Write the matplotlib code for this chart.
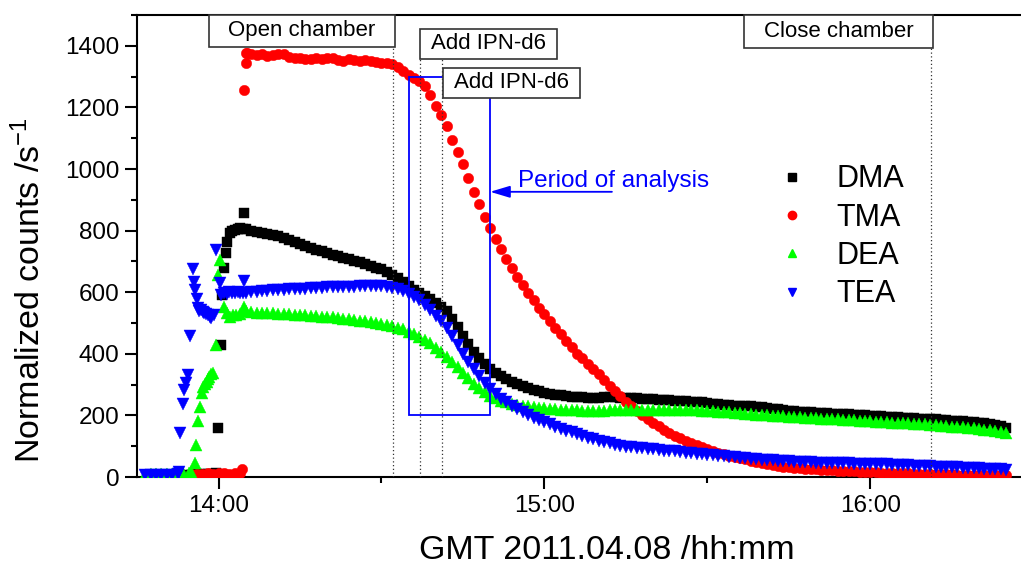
import matplotlib
matplotlib.use('Agg')
import matplotlib.pyplot as plt
from matplotlib.patches import Rectangle
from matplotlib.lines import Line2D
from matplotlib.ticker import MultipleLocator, FuncFormatter

plt.rcParams['font.family'] = ['Liberation Sans', 'DejaVu Sans']
plt.rcParams['mathtext.fontset'] = 'custom'
plt.rcParams['mathtext.rm'] = 'Liberation Sans'
plt.rcParams['mathtext.it'] = 'Liberation Sans:italic'

# time is given in minutes relative to 14:00 GMT

# --- start-up phase (sparse points) ---
dma_early_t = [-13, -12, -11, -10, -9, -8, -7, -6, -5, -4, -3, -2, -1, -0.5, -0.1,
               0.5, 0.7, 1.0, 1.3, 1.6, 2.1, 2.5, 3.0, 3.5, 4.0, 4.5, 4.7]
dma_early = [4, 5, 4, 5, 6, 5, 6, 7, 8, 9, 10, 10, 11, 12, 160,
             429, 591, 678, 728, 764, 791, 798, 803, 806, 808, 806, 858]

tma_early_t = [-5, -4, -3, -2, -1, 0, 1, 2, 3, 4, 4.4, 4.7, 5.0, 5.3]
tma_early = [10, 11, 10, 12, 11, 12, 12, 11, 12, 13, 25, 1257, 1343, 1376]

dea_early_t = [-13.5, -12.5, -11.5, -10.5, -9.5, -8.5, -7.5, -6.5, -5.5, -5.0,
               -4.4, -4.2, -3.7, -3.4, -3.1, -2.8, -2.5, -2.2, -1.9, -1.7, -1.4, -1.1,
               -0.4, -0.1, 0.2, 1.0, 1.5, 2.1, 2.6, 3.3, 4.0, 4.7]
dea_early = [8, 9, 10, 10, 11, 10, 10, 12, 14, 15,
             44, 104, 183, 228, 272, 293, 302, 310, 318, 326, 333, 339,
             429, 656, 705, 553, 532, 520, 525, 527, 530, 553]

tea_early_t = [-13.5, -12.5, -11.5, -10.5, -9.5, -8.5, -7.5, -7.2, -7.0, -6.6, -6.3,
               -6.0, -5.7, -5.3, -4.7, -4.6, -4.3, -4.0, -3.8, -3.5, -3.2, -2.9, -2.6,
               -2.3, -2.0, -1.6, -1.3, -0.8, -0.4, 0.25, 0.5, 1.0, 1.5, 2.0, 2.5, 3.0,
               3.5, 4.0, 4.5, 4.7]
tea_early = [5, 6, 5, 7, 6, 8, 10, 15, 142, 237, 282,
             306, 331, 458, 674, 634, 607, 577, 548, 540, 543, 535, 532,
             528, 527, 520, 515, 527, 737, 631, 591, 598, 595, 600, 597, 598,
             600, 599, 598, 637]

# --- main record, one reading per minute ---
minutes = list(range(5, 146))

dma = [805, 800, 797, 793, 790, 786, 781, 775, 768, 762,
       757, 750, 745, 738, 733, 727, 722, 717, 712, 707,
       702, 697, 692, 686, 680, 674, 667, 657, 645, 632,
       620, 608, 597, 587, 578, 566, 552, 538, 512, 486,
       458, 432, 407, 385, 366, 350, 338, 327, 318, 309,
       301, 294, 288, 283, 278, 274, 270, 267, 265, 263,
       261, 260, 259, 258, 258, 258, 259, 259, 259, 258,
       257, 256, 255, 254, 253, 252, 251, 250, 249, 248,
       247, 246, 245, 244, 242, 240, 238, 236, 235, 233,
       232, 231, 230, 229, 228, 226, 224, 222, 220, 216,
       214, 213, 212, 211, 210, 209, 208, 207, 206, 205,
       204, 203, 202, 201, 200, 199, 198, 197, 196, 195,
       194, 193, 192, 191, 190, 189, 188, 187, 186, 184,
       183, 182, 181, 180, 178, 176, 174, 172, 169, 165,
       158]

tma = [1376, 1375, 1370, 1372, 1368, 1370, 1374, 1372, 1365, 1362,
       1360, 1358, 1356, 1360, 1358, 1362, 1360, 1355, 1352, 1356,
       1354, 1352, 1354, 1350, 1346, 1344, 1344, 1340, 1330, 1318,
       1305, 1295, 1285, 1268, 1240, 1205, 1175, 1140, 1095, 1055,
       1015, 970, 925, 885, 845, 808, 772, 740, 708, 678,
       650, 622, 598, 574, 550, 528, 506, 485, 464, 443,
       422, 400, 385, 368, 352, 335, 316, 297, 280, 262,
       245, 230, 214, 200, 187, 175, 165, 154, 144, 134,
       126, 118, 111, 103, 96, 90, 84, 79, 74, 69,
       65, 62, 57, 53, 49, 45, 42, 39, 36, 34,
       32, 30, 29, 27, 26, 25, 24, 23, 22, 21,
       20, 19, 18, 17, 16, 15, 15, 14, 14, 13,
       13, 12, 12, 11, 11, 10, 10, 10, 9, 9,
       9, 8, 8, 8, 7, 7, 7, 6, 6, 6,
       5]

dea = [538, 536, 534, 533, 532, 531, 530, 529, 528, 527,
       526, 525, 524, 522, 521, 520, 518, 516, 514, 512,
       510, 508, 506, 503, 500, 497, 494, 490, 485, 479,
       472, 464, 455, 445, 434, 420, 405, 390, 373, 356,
       338, 320, 303, 288, 275, 264, 255, 248, 243, 238,
       234, 231, 229, 227, 225, 223, 221, 220, 219, 218,
       217, 216, 215, 214, 214, 214, 215, 216, 217, 217,
       218, 218, 218, 218, 218, 218, 218, 218, 218, 218,
       217, 217, 216, 216, 215, 214, 213, 212, 211, 210,
       208, 207, 205, 204, 202, 201, 200, 199, 198, 197,
       196, 195, 194, 193, 192, 191, 190, 189, 188, 187,
       186, 185, 184, 183, 182, 181, 180, 179, 178, 177,
       176, 175, 174, 173, 172, 171, 170, 168, 167, 165,
       164, 163, 161, 160, 158, 156, 154, 152, 150, 147,
       144]

tea = [598, 600, 602, 603, 605, 606, 607, 608, 609, 610,
       611, 612, 613, 614, 615, 616, 616, 617, 617, 618,
       618, 619, 619, 620, 620, 619, 617, 614, 609, 603,
       595, 585, 574, 558, 542, 524, 505, 483, 458, 430,
       400, 375, 350, 328, 305, 285, 268, 254, 242, 231,
       221, 212, 202, 193, 185, 178, 171, 164, 157, 151,
       145, 139, 133, 127, 122, 117, 113, 109, 105, 102,
       99, 97, 95, 93, 91, 90, 88, 86, 84, 83,
       81, 79, 77, 76, 74, 72, 70, 69, 67, 65,
       64, 62, 61, 59, 57, 56, 55, 54, 53, 52,
       51, 50, 50, 49, 48, 47, 47, 46, 45, 45,
       44, 44, 43, 43, 42, 42, 42, 41, 41, 40,
       39, 39, 38, 37, 36, 35, 35, 34, 33, 32,
       32, 31, 30, 29, 28, 28, 27, 26, 26, 25,
       24]

labels = ['DMA', 'TMA', 'DEA', 'TEA']
colors = ['#000000', '#ff0000', '#00ff00', '#0000ff']
markers = ['s', 'o', '^', 'v']
sizes = [7.5, 7.5, 8.5, 8.5]
legend_sizes = [5.3, 6.0, 6.3, 6.3]

# events (minutes after 14:00)
open_t, add1_t, add2_t, close_t = 32.1, 37.1, 41.1, 131.1
period_t = (35.0, 50.0)
period_y = (200, 1300)


def hours(tlist):
    return [14 + t / 60 for t in tlist]


fig = plt.figure(figsize=(10.21, 5.66), dpi=100)
ax = fig.add_axes([0.1342, 0.1572, 0.8648, 0.8163])

series = [(dma_early_t, dma_early, minutes, dma),
          (tma_early_t, tma_early, minutes, tma),
          (dea_early_t, dea_early, minutes, dea),
          (tea_early_t, tea_early, minutes, tea)]
for (et, ev, mt, mv), lab, c, m, s in zip(series, labels, colors, markers, sizes):
    ax.plot(hours(et + mt), ev + mv, ls='none', marker=m, ms=s,
            color=c, mec=c, mew=0.3, zorder=3)

# dotted event lines
dot = dict(ls=(0, (1, 2)), color='#333333', lw=0.9, zorder=5)
ax.plot(hours([open_t] * 2), [0, 1397], **dot)
ax.plot(hours([add1_t] * 2), [0, 1357], **dot)
ax.plot(hours([add2_t] * 2), [0, 1357], **dot)
ax.plot(hours([close_t] * 2), [0, 1393], **dot)

# period of analysis
x0, x1 = hours(period_t)
ax.add_patch(Rectangle((x0, period_y[0]), x1 - x0, period_y[1] - period_y[0],
                       fill=False, ec='#0000ff', lw=1.3, zorder=6))
ax.annotate('', xy=(x1, 926), xytext=(15.207, 926),
            arrowprops=dict(arrowstyle='-|>,head_length=0.6,head_width=0.18',
                            color='#0000ff', lw=1.3, shrinkA=0, shrinkB=0,
                            mutation_scale=20), zorder=6)
ax.text(14.918, 942, 'Period of analysis', color='#0000ff', fontsize=17.5,
        va='baseline', ha='left', zorder=6)

# labelled boxes
boxes = [('Open chamber', 13.972, 14.540, 1397, 1500),
         ('Add IPN-d6', 14.619, 15.039, 1358, 1455),
         ('Add IPN-d6', 14.689, 15.108, 1232, 1328),
         ('Close chamber', 15.613, 16.191, 1393, 1500)]
for txt, bx0, bx1, by0, by1 in boxes:
    ax.add_patch(Rectangle((bx0, by0), bx1 - bx0, by1 - by0, fc='white',
                           ec='#333333', lw=1.2, zorder=7, clip_on=False))
    ax.text((bx0 + bx1) / 2, (by0 + by1) / 2, txt, fontsize=16,
            ha='center', va='center', zorder=8)

ax.set_xlim(13.75, 16.459)
ax.set_ylim(0, 1500)
ax.xaxis.set_major_locator(MultipleLocator(1))
ax.xaxis.set_minor_locator(MultipleLocator(0.5))
ax.xaxis.set_major_formatter(FuncFormatter(
    lambda v, p: f"{int(v):02d}:{int(round((v % 1) * 60)):02d}"))
ax.yaxis.set_major_locator(MultipleLocator(200))
ax.yaxis.set_minor_locator(MultipleLocator(100))
ax.tick_params(which='major', direction='out', length=8.6, width=1.5,
               labelsize=17.5, pad=4)
ax.tick_params(which='minor', direction='out', length=4.3, width=1.5)
for sp in ['left', 'bottom', 'top']:
    ax.spines[sp].set_linewidth(1.5)
ax.spines['right'].set_visible(False)

ax.set_xlabel('GMT 2011.04.08 /hh:mm', fontsize=24.5)
ax.xaxis.set_label_coords(0.532, -0.1245)
ax.set_ylabel('Normalized counts /s$^{-1}$', fontsize=24.5)
ax.yaxis.set_label_coords(-0.102, 0.405)

handles = [Line2D([], [], ls='none', marker=m, ms=s, color=c, mec=c)
           for m, s, c in zip(markers, legend_sizes, colors)]
ax.legend(handles=handles, labels=labels, loc='upper left',
          bbox_to_anchor=(0.724, 0.6765), frameon=False, fontsize=22,
          handlelength=1.0, handletextpad=0.97, labelspacing=0.27,
          borderpad=0, borderaxespad=0, numpoints=1)

plt.savefig('out.png', dpi=100)
